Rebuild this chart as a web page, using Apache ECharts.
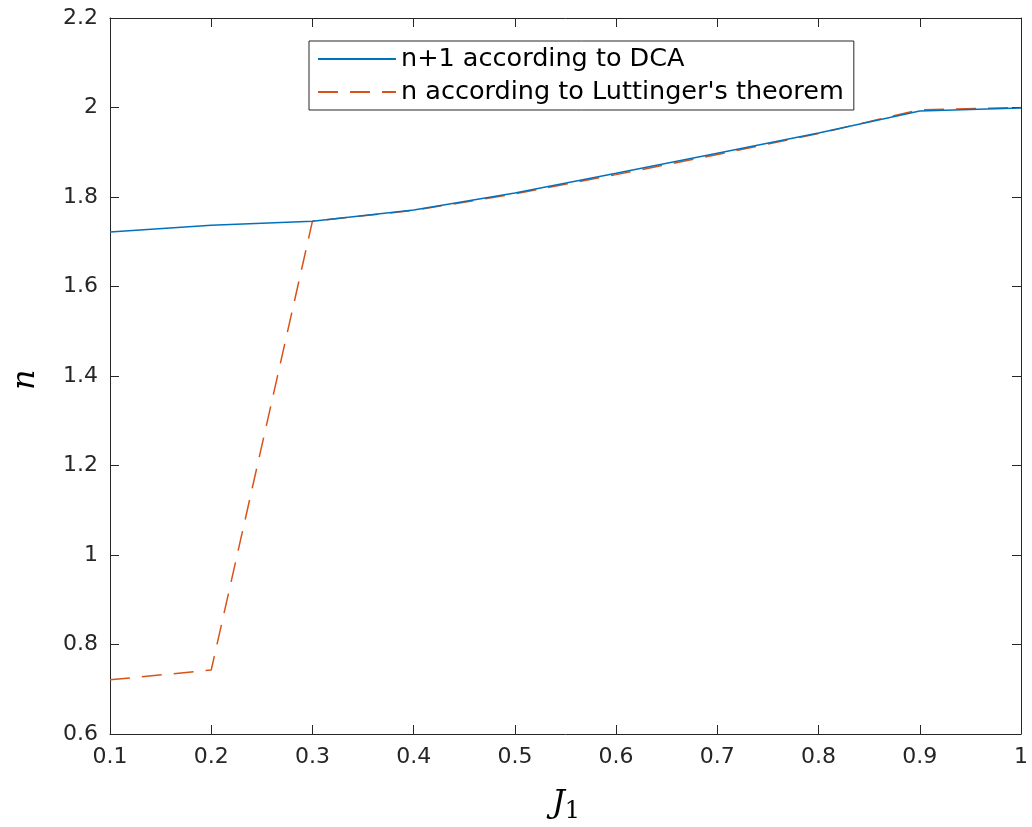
<!DOCTYPE html>
<html><head><meta charset="utf-8">
<script src="https://cdn.jsdelivr.net/npm/echarts@6/dist/echarts.min.js"></script>
<style>html,body{margin:0;padding:0;background:#fff}#c{width:1032px;height:827px}</style>
</head><body><div id="c"></div>
<script>
const xValues = [0.1, 0.2, 0.3, 0.4, 0.5, 0.6, 0.7, 0.8, 0.9, 1.0];
const dcaValues = [1.722, 1.737, 1.746, 1.771, 1.809, 1.853, 1.898, 1.943, 1.992, 1.999];
const luttingerValues = [0.721, 0.743, 1.746, 1.770, 1.807, 1.850, 1.895, 1.942, 1.995, 2.000];
const seriesNames = ["n+1 according to DCA", "n according to Luttinger's theorem"];

const chart = echarts.init(document.getElementById('c'));
const tickColor = '#262626';
const font = 'DejaVu Sans';
const fmtX = v => (Math.abs(v - 1) < 1e-9 ? '1' : v.toFixed(1));
const fmtY = v => { const r = Math.round(v * 10) / 10; return (Math.abs(r - Math.round(r)) < 1e-9) ? String(Math.round(r)) : r.toFixed(1); };
const baseAxisX = {
  type: 'value', min: 0.1, max: 1, interval: 0.1,
  axisLine: { show: true, onZero: false, lineStyle: { color: tickColor, width: 1 } },
  axisTick: { show: true, inside: true, length: 9, lineStyle: { color: tickColor } },
  splitLine: { show: false }
};
const baseAxisY = {
  type: 'value', min: 0.6, max: 2.2, interval: 0.2,
  axisLine: { show: true, onZero: false, lineStyle: { color: tickColor, width: 1 } },
  axisTick: { show: true, inside: true, length: 9, lineStyle: { color: tickColor } },
  splitLine: { show: false }
};
chart.setOption({
  animation: false,
  backgroundColor: '#fff',
  grid: { left: 110, right: 11, top: 18, bottom: 93 },
  xAxis: [
    Object.assign({}, baseAxisX, {
      position: 'bottom',
      axisLabel: { color: tickColor, fontFamily: font, fontSize: 22, margin: 12, formatter: fmtX }
    }),
    Object.assign({}, baseAxisX, { position: 'top', axisLabel: { show: false } })
  ],
  yAxis: [
    Object.assign({}, baseAxisY, {
      position: 'left',
      axisLabel: { color: tickColor, fontFamily: font, fontSize: 22, margin: 12, formatter: fmtY }
    }),
    Object.assign({}, baseAxisY, { position: 'right', axisLabel: { show: false } })
  ],
  legend: {
    left: 309, top: 41, orient: 'vertical',
    itemWidth: 78, itemHeight: 14, itemGap: 3,
    padding: [3, 10, 3, 8],
    borderColor: '#262626', borderWidth: 1, backgroundColor: '#fff',
    itemStyle: { opacity: 0 },
    textStyle: { fontFamily: font, fontSize: 25.5, lineHeight: 30, color: '#000' },
    data: seriesNames
  },
  series: [
    {
      name: seriesNames[0], type: 'line', showSymbol: false, symbol: 'none',
      data: xValues.map((x, i) => [x, dcaValues[i]]),
      lineStyle: { color: '#0072BD', width: 1.5 }, itemStyle: { color: '#0072BD' }, z: 3
    },
    {
      name: seriesNames[1], type: 'line', showSymbol: false, symbol: 'none',
      data: xValues.map((x, i) => [x, luttingerValues[i]]),
      lineStyle: { color: '#D95319', width: 1.5, type: [20, 12] }, itemStyle: { color: '#D95319' }, z: 2
    }
  ],
  graphic: [
    {
      type: 'text', left: 552, top: 788,
      style: {
        text: '{j|J}{s|1}',
        rich: {
          j: { fontFamily: 'DejaVu Serif', fontStyle: 'italic', fontSize: 32, fill: '#000' },
          s: { fontFamily: 'DejaVu Serif', fontSize: 24, fill: '#000', verticalAlign: 'bottom', padding: [16, 0, 0, 0] }
        }
      }
    },
    {
      type: 'text', x: 10, y: 390, rotation: Math.PI / 2,
      style: { text: 'n', fontFamily: 'DejaVu Serif', fontStyle: 'italic', fontSize: 32, fill: '#000' }
    }
  ]
});
</script></body></html>
